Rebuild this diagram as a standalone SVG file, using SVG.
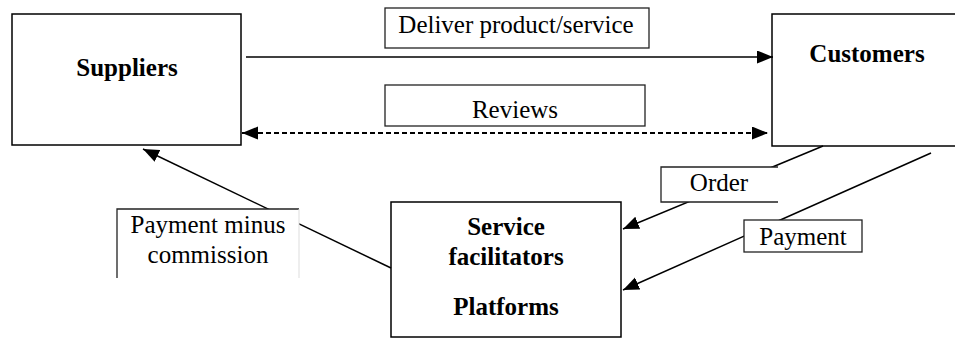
<svg xmlns="http://www.w3.org/2000/svg" width="955" height="339" viewBox="0 0 955 339">
<style>
.node{fill:#fff;stroke:#000;stroke-width:1.5}
.lbl{fill:#fff;stroke:#222;stroke-width:1.3}
text{font-family:'Liberation Serif','Times New Roman',Times,'DejaVu Serif',serif;font-size:25px;fill:#000;text-anchor:middle}
.b{font-weight:bold}
.ln{stroke:#000;stroke-width:1.5;fill:none}
.dash{stroke:#000;stroke-width:2;fill:none;stroke-dasharray:5 3}
</style>
<defs>
<marker id="ah" markerUnits="userSpaceOnUse" markerWidth="17" markerHeight="14" refX="16" refY="6.5" orient="auto-start-reverse">
<path d="M0,0 L16,6.5 L0,13 z" fill="#000"/>
</marker>
</defs>
<rect width="955" height="339" fill="#fff"/>
<g id="suppliers">
<rect class="node" x="12" y="14" width="229" height="131"/>
<text class="b" x="127" y="76" font-family="Liberation Serif, serif">Suppliers</text>
</g>
<g id="customers">
<rect class="node" x="772" y="14" width="200" height="132"/>
<text class="b" x="867" y="62" font-family="Liberation Serif, serif">Customers</text>
</g>
<g id="service" font-family="Liberation Serif, serif">
<rect class="node" x="391" y="202" width="230" height="135"/>
<text class="b" x="506" y="235">Service</text>
<text class="b" x="506" y="265">facilitators</text>
<text class="b" x="506" y="315">Platforms</text>
</g>
<g id="connectors">
<line class="ln" x1="246" y1="57" x2="773" y2="57" marker-end="url(#ah)"/>
<line class="dash" x1="242" y1="133" x2="768" y2="133" marker-start="url(#ah)" marker-end="url(#ah)"/>
<line class="ln" x1="823" y1="146" x2="623" y2="229" marker-end="url(#ah)"/>
<line class="ln" x1="931" y1="153" x2="623" y2="290" marker-end="url(#ah)"/>
<line class="ln" x1="391" y1="268" x2="143" y2="149" marker-end="url(#ah)"/>
<g id="label-deliver">
<rect class="lbl" x="385" y="8" width="264" height="40"/>
<text x="516" y="33">Deliver product/service</text>
</g>
<g id="label-reviews">
<rect class="lbl" x="385" y="85" width="260" height="41"/>
<text x="515" y="118">Reviews</text>
</g>
<g id="label-order">
<rect x="661" y="167" width="117" height="35" fill="#fff"/>
<path class="lbl" fill="none" d="M778,167 H661 V202 H778"/>
<text x="719" y="191">Order</text>
</g>
<g id="label-payment">
<rect class="lbl" x="744" y="220" width="118" height="32"/>
<text x="803" y="245">Payment</text>
</g>
<g id="label-commission">
<rect x="117" y="209" width="182" height="69" fill="#fff"/>
<path class="lbl" fill="none" d="M117,278 V209 H299"/>
<line x1="299" y1="209" x2="299" y2="278" stroke="#ddd" stroke-width="1"/>
<text x="208" y="233">Payment minus</text>
<text x="208" y="263">commission</text>
</g>
</g>
</svg>
